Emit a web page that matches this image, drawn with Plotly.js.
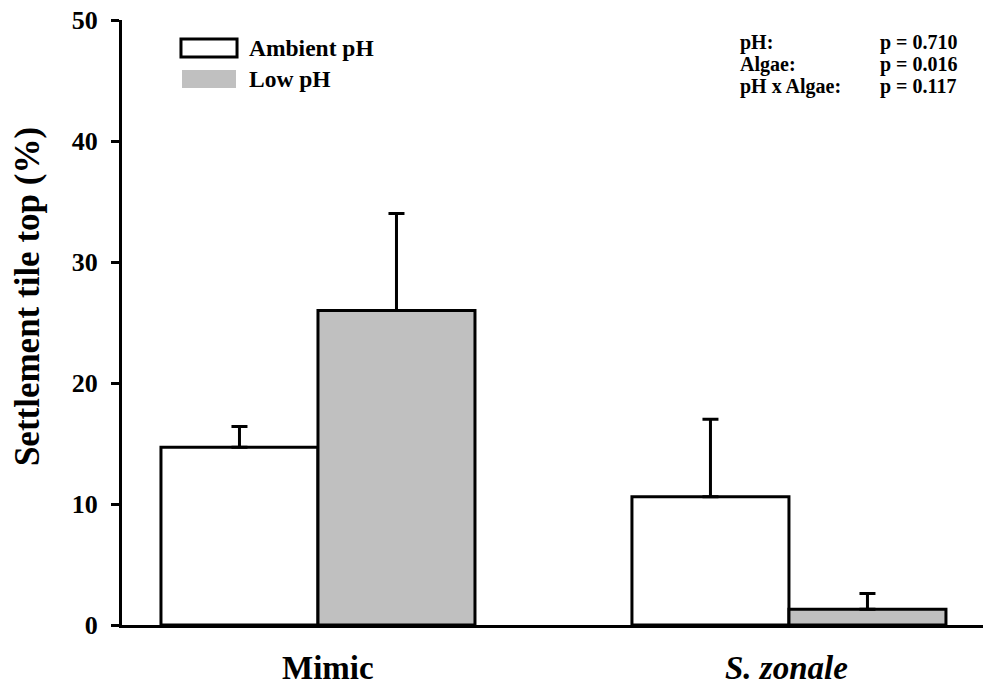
<!DOCTYPE html>
<html>
<head>
<meta charset="utf-8">
<script src="https://cdn.plot.ly/plotly-3.0.1.min.js"></script>
<style>html,body{margin:0;padding:0;background:#fff;}#chart{width:984px;height:690px;}</style>
</head>
<body>
<div id="chart"></div>
<script>
// Data
var categories = ['Mimic', 'S. zonale'];
var categoryLabels = ['<b>Mimic</b>', '<b><i>S. zonale</i></b>'];
var seriesNames = ['Ambient pH', 'Low pH'];
var ambientMeans = [14.7, 10.6];
var ambientSE = [1.7, 6.4];
var lowMeans = [26.0, 1.3];
var lowSE = [8.0, 1.3];
var statLabels = ['pH:', 'Algae:', 'pH x Algae:'];
var statValues = ['p = 0.710', 'p = 0.016', 'p = 0.117'];
var yTicks = [0, 10, 20, 30, 40, 50];

var FONT = '"Liberation Serif", "Times New Roman", "DejaVu Serif", serif';
var fillColors = ['#ffffff', '#c0c0c0'];

function barTrace(name, y, err, color) {
  return {
    type: 'bar', name: name, x: categories, y: y,
    marker: {color: color, line: {color: '#000', width: 3}},
    error_y: {type: 'data', symmetric: false, array: err, arrayminus: err.map(function(){return 0;}),
              color: '#000', thickness: 3, width: 8},
    showlegend: false, hoverinfo: 'skip'
  };
}

var data = [
  barTrace(seriesNames[0], ambientMeans, ambientSE, fillColors[0]),
  barTrace(seriesNames[1], lowMeans, lowSE, fillColors[1])
];

var annotations = [];
var shapes = [];
// legend keys
var legY = [0.9537, 0.9025];
var legBox = [[0.0685, 0.1336, 0.9388, 0.9686], [0.0697, 0.1324, 0.8876, 0.9174]];
seriesNames.forEach(function(n, i) {
  shapes.push({type: 'rect', xref: 'paper', yref: 'paper',
    x0: legBox[i][0], x1: legBox[i][1], y0: legBox[i][2], y1: legBox[i][3],
    fillcolor: fillColors[i], line: {color: i === 0 ? '#000' : fillColors[i], width: i === 0 ? 3 : 0}});
  annotations.push({xref: 'paper', yref: 'paper', x: 0.1452, y: legY[i], xanchor: 'left', yanchor: 'middle',
    text: '<b>' + n + '</b>', showarrow: false, font: {family: FONT, size: 23.5, color: '#000'}});
});
// stats
var statY = [0.9636, 0.9264, 0.8893];
statLabels.forEach(function(s, i) {
  annotations.push({xref: 'paper', yref: 'paper', x: 0.7154, y: statY[i], xanchor: 'left', yanchor: 'middle',
    text: '<b>' + s + '</b>', showarrow: false, font: {family: FONT, size: 20, color: '#000'}});
  annotations.push({xref: 'paper', yref: 'paper', x: 0.878, y: statY[i], xanchor: 'left', yanchor: 'middle',
    text: '<b>' + statValues[i] + '</b>', showarrow: false, font: {family: FONT, size: 20, color: '#000'}});
});
// category labels
var catShift = [10, -2];
categories.forEach(function(c, i) {
  annotations.push({xref: 'x', yref: 'paper', x: c, y: -0.071, xanchor: 'center', yanchor: 'middle',
    xshift: catShift[i], text: categoryLabels[i], showarrow: false,
    font: {family: FONT, size: 33, color: '#000'}});
});
// y title
annotations.push({xref: 'paper', yref: 'paper', x: -0.1103, y: 0.542, xanchor: 'center', yanchor: 'middle',
  textangle: -90, text: '<b>Settlement tile top (%)</b>', showarrow: false,
  font: {family: FONT, size: 35, color: '#000'}});

var layout = {
  width: 984, height: 690,
  margin: {l: 122, r: 1, t: 20, b: 65, pad: 0},
  paper_bgcolor: '#fff', plot_bgcolor: '#fff',
  barmode: 'group', bargap: 0.3333, bargroupgap: 0,
  font: {family: FONT, color: '#000'},
  xaxis: {
    type: 'category', range: [-0.4161, 1.412],
    showticklabels: false,
    ticks: '', showline: true, linecolor: '#000', linewidth: 3,
    showgrid: false, zeroline: false
  },
  yaxis: {
    range: [0, 50], tickmode: 'array', tickvals: yTicks,
    ticks: 'outside', ticklen: 8, tickwidth: 3, tickcolor: '#000',
    ticklabelstandoff: 8,
    showline: true, linecolor: '#000', linewidth: 3,
    showgrid: false, zeroline: false,
    tickfont: {family: FONT, size: 26, color: '#000', weight: 'bold'}
  },
  shapes: shapes,
  annotations: annotations
};

Plotly.newPlot('chart', data, layout, {displayModeBar: false, staticPlot: true});
</script>
</body>
</html>
